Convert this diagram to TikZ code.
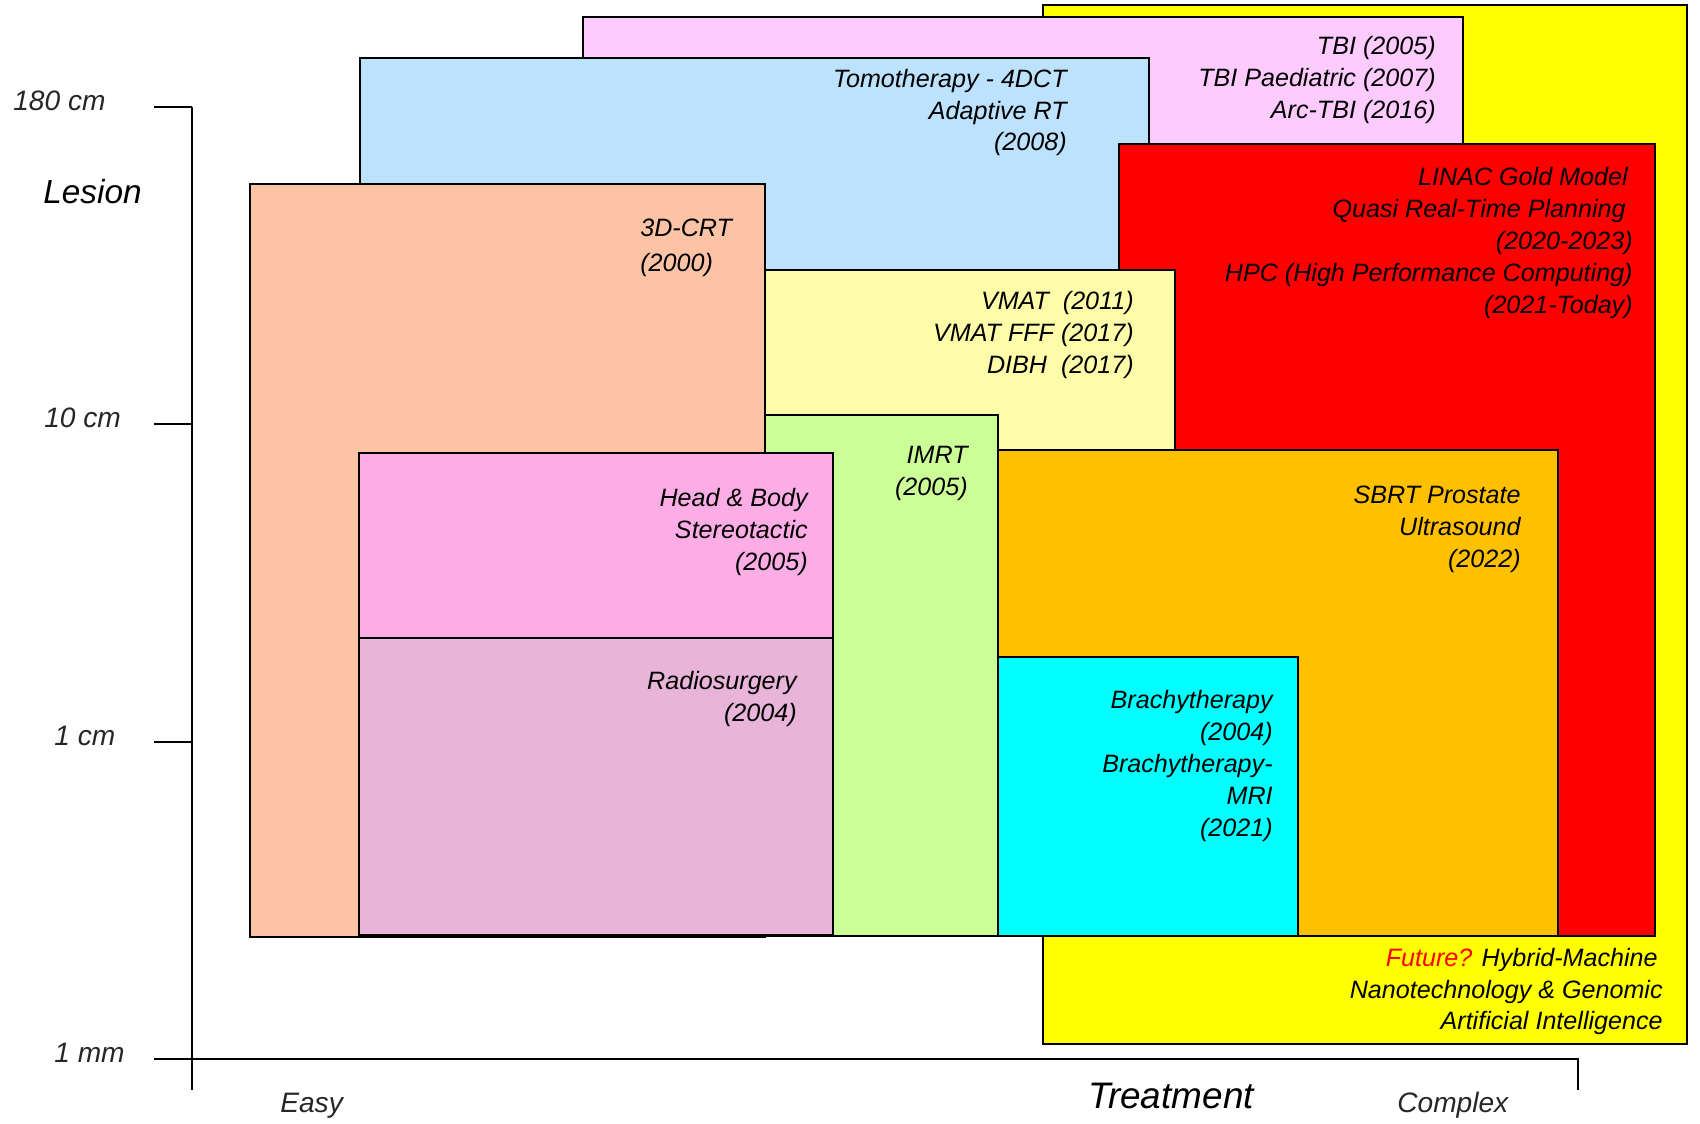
\documentclass[tikz,border=0pt]{standalone}
\usepackage{fontspec}
\setmainfont{Liberation Sans}
\newcommand\lblfont{\fontsize{14.3pt}{18pt}\selectfont\itshape}
\newcommand\axfont[1]{\fontsize{#1}{#1}\selectfont\itshape}

\definecolor{cYellow}{HTML}{FFFF00}
\definecolor{cTbi}{HTML}{FDCBFD}
\definecolor{cBlue}{HTML}{BDE2FD}
\definecolor{cRed}{HTML}{FF0000}
\definecolor{cVmat}{HTML}{FEFCA8}
\definecolor{cGreen}{HTML}{CCFE98}
\definecolor{cOrange}{HTML}{FFC000}
\definecolor{cCyan}{HTML}{00FFFF}
\definecolor{cSalmon}{HTML}{FCC3A5}
\definecolor{cHead}{HTML}{FDADE6}
\definecolor{cRadio}{HTML}{E8B4D9}

\tikzset{
  panel/.style={draw=black, line width=1.1pt},
  axisline/.style={draw=black, line width=1.1pt},
  rlbl/.style={font=\lblfont, anchor=base east, inner sep=0pt},
  llbl/.style={font=\lblfont, anchor=base west, inner sep=0pt},
  ticklbl/.style={font=\axfont{16pt}, anchor=base west, inner sep=0pt, text=black!85},
  axtitle/.style={anchor=base west, inner sep=0pt},
}

\begin{document}
\begin{tikzpicture}[x=0.02cm, y=-0.02cm]
\useasboundingbox[fill=white] (0,0) rectangle (1700,1124);

% treatment panels, back to front
\draw[panel, fill=cYellow] (1043,5)   rectangle (1687,1044);
\draw[panel, fill=cTbi]    (583,17)   rectangle (1463,200);
\draw[panel, fill=cBlue]   (360,58)   rectangle (1149,300);
\draw[panel, fill=cRed]    (1119,144) rectangle (1655,936);
\draw[panel, fill=cVmat]   (765,270)  rectangle (1175,500);
\draw[panel, fill=cGreen]  (765,415)  rectangle (998,936);
\draw[panel, fill=cOrange] (998,450)  rectangle (1558,936);
\draw[panel, fill=cCyan]   (998,657)  rectangle (1298,936);
\draw[panel, fill=cSalmon] (250,184)  rectangle (765,937);
\draw[panel, fill=cHead]   (359,453)  rectangle (833,638);
\draw[panel, fill=cRadio]  (359,638)  rectangle (833,935);

% axes
\coordinate (ytop) at (192,107);
\coordinate (ybot) at (192,1090);
\coordinate (orig) at (192,1059);
\coordinate (xstart) at (154,1059);
\coordinate (xend) at (1578,1059);
\coordinate (xendlow) at (1578,1090);
\coordinate (t180) at (154,107);
\coordinate (a180) at (192,107);
\coordinate (t10) at (154,424);
\coordinate (a10) at (192,424);
\coordinate (t1) at (154,742);
\coordinate (a1) at (192,742);
\draw[axisline] (ytop) -- (ybot);
\draw[axisline] (xstart) -- (xend) -- (xendlow);
\draw[axisline] (t180) -- (a180);
\draw[axisline] (t10) -- (a10);
\draw[axisline] (t1) -- (a1);

% axis labels
\node[ticklbl] (l180) at (13,111) {180 cm};
\node[ticklbl] (l10)  at (44,428) {10 cm};
\node[ticklbl] (l1)   at (54,745) {1 cm};
\node[ticklbl] (l1mm) at (54,1062) {1 mm};
\node[ticklbl] (easy) at (280,1112) {Easy};
\node[ticklbl] (cplx) at (1397,1112) {Complex};
\node[axtitle, font=\axfont{19pt}] (lesion) at (43,204) {Lesion};
\node[axtitle, font=\axfont{21pt}] (treat) at (1088,1108) {Treatment};

% TBI
\node[rlbl] (tbi1) at (1436,55) {TBI (2005)};
\node[rlbl] (tbi2) at (1436,87) {TBI Paediatric (2007)};
\node[rlbl] (tbi3) at (1436,119) {Arc-TBI (2016)};

% Tomotherapy
\node[rlbl] (tomo1) at (1067,87.5) {Tomotherapy - 4DCT};
\node[rlbl] (tomo2) at (1067,119.5) {Adaptive RT};
\node[rlbl] (tomo3) at (1067,151) {(2008)};

% LINAC
\node[rlbl] (lin1) at (1628,186) {LINAC Gold Model};
\node[rlbl] (lin2) at (1626,218) {Quasi Real-Time Planning};
\node[rlbl] (lin3) at (1633,250) {(2020-2023)};
\node[rlbl] (lin4) at (1633,282) {HPC (High Performance Computing)};
\node[rlbl] (lin5) at (1633,314) {(2021-Today)};

% 3D-CRT
\node[llbl] (crt1) at (640,237) {3D-CRT};
\node[llbl] (crt2) at (640,272) {(2000)};

% VMAT
\node[rlbl] (vmat1) at (1134,310) {VMAT\ \ (2011)};
\node[rlbl] (vmat2) at (1134,342) {VMAT FFF (2017)};
\node[rlbl] (vmat3) at (1134,374) {DIBH\ \ (2017)};

% IMRT
\node[rlbl] (imrt1) at (968,463.5) {IMRT};
\node[rlbl] (imrt2) at (968,496) {(2005)};

% SBRT
\node[rlbl] (sbrt1) at (1521,503.5) {SBRT Prostate};
\node[rlbl] (sbrt2) at (1521,535.5) {Ultrasound};
\node[rlbl] (sbrt3) at (1521,567.5) {(2022)};

% Head & Body
\node[rlbl] (hb1) at (808,507) {Head \& Body};
\node[rlbl] (hb2) at (808,539) {Stereotactic};
\node[rlbl] (hb3) at (808,571) {(2005)};

% Radiosurgery
\node[rlbl] (rs1) at (797,689.5) {Radiosurgery};
\node[rlbl] (rs2) at (797,721) {(2004)};

% Brachytherapy
\node[rlbl] (br1) at (1273,708) {Brachytherapy};
\node[rlbl] (br2) at (1273,740) {(2004)};
\node[rlbl] (br3) at (1273,772) {Brachytherapy-};
\node[rlbl] (br4) at (1273,804.5) {MRI};
\node[rlbl] (br5) at (1273,836) {(2021)};

% Future
\node[rlbl] (fut1) at (1658,966.5) {\textcolor{cRed}{Future?} Hybrid-Machine};
\node[rlbl] (fut2) at (1663,998) {Nanotechnology \& Genomic};
\node[rlbl] (fut3) at (1663,1029.5) {Artificial Intelligence};
\end{tikzpicture}
\end{document}
